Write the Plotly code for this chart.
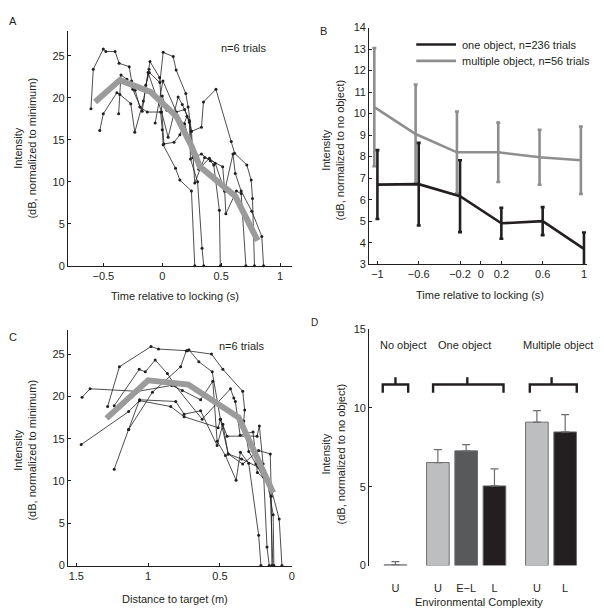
import plotly.graph_objects as go

W, H = 604, 616
FONT = "Arial, Liberation Sans, sans-serif"
INK = "#231f20"


def px(x):
    return x / W


def py(y):
    return 1 - y / H


# ---------------- Panel A : intensity vs time relative to locking ----------------
a_mean_t = [-0.57, -0.36, -0.10, 0.12, 0.25, 0.32, 0.62, 0.81]
a_mean_db = [19.5, 22.1, 20.7, 17.8, 14.2, 11.8, 8.3, 3.0]

a_t1 = [-0.605, -0.585, -0.50, -0.478, -0.40, -0.366, -0.28, -0.26, -0.23, -0.19, -0.127, -0.014, 0.0, 0.008, 0.113, 0.15, 0.248, 0.276]
a_db1 = [18.7, 23.4, 25.8, 25.5, 25.5, 24.1, 23.7, 22.0, 20.9, 18.9, 18.3, 18.3, 16.2, 14.4, 11.6, 10.2, 8.9, 0]
a_t2 = [-0.53, -0.50, -0.385, -0.36, -0.267, -0.233, -0.16, -0.112, -0.104, -0.022, 0.014, 0.10, 0.15, 0.21, 0.23, 0.24, 0.30, 0.338, 0.352]
a_db2 = [16.1, 18.1, 20.6, 20.4, 19.3, 15.9, 19.6, 23.4, 24.3, 22.4, 14.5, 14.7, 15.6, 17.8, 17.1, 12.7, 10.0, 2.1, 0]
a_t3 = [-0.37, -0.35, -0.30, -0.25, -0.17, -0.12, -0.005, 0.05, 0.135, 0.17, 0.23, 0.26, 0.333, 0.408, 0.437, 0.485, 0.493]
a_db3 = [18.1, 22.7, 22.2, 21.0, 18.4, 23.0, 18.3, 15.3, 20.1, 19.2, 17.3, 12.9, 13.3, 12.5, 12.0, 6.6, 0]
a_t4 = [-0.14, -0.11, -0.02, 0.008, 0.093, 0.118, 0.20, 0.22, 0.248, 0.276, 0.36, 0.513, 0.53, 0.54, 0.63, 0.67, 0.71]
a_db4 = [21.5, 23.0, 21.8, 25.4, 24.9, 23.3, 20.5, 18.9, 16.0, 9.85, 12.9, 11.8, 8.9, 6.2, 8.9, 8.6, 0]
a_t5 = [-0.06, 0.006, 0.12, 0.19, 0.23, 0.248, 0.333, 0.35, 0.456, 0.586, 0.614, 0.718, 0.755, 0.766, 0.783]
a_db5 = [17.0, 22.0, 18.3, 18.6, 17.1, 16.0, 16.5, 19.5, 21.0, 14.8, 13.4, 12.0, 10.2, 8.0, 0]
a_t6 = [0.0, 0.04, 0.19, 0.26, 0.31, 0.40, 0.45, 0.53, 0.60, 0.62, 0.67, 0.76, 0.845, 0.86]
a_db6 = [20.2, 18.5, 16.9, 13.3, 11.5, 12.8, 12.2, 8.9, 13.3, 11.0, 8.9, 6.5, 3.5, 0]
a_trials_t = [a_t1, a_t2, a_t3, a_t4, a_t5, a_t6]
a_trials_db = [a_db1, a_db2, a_db3, a_db4, a_db5, a_db6]

# ---------------- Panel B : one vs multiple object ----------------
b_t_one = [-1, -0.6, -0.2, 0.2, 0.6, 1]
b_one = [6.7, 6.72, 6.16, 4.9, 5.0, 3.71]
b_one_err = [1.6, 1.92, 1.67, 0.72, 0.65, 0.76]
b_t_multi = [-1.03, -0.63, -0.23, 0.17, 0.57, 0.97]
b_multi = [10.3, 9.05, 8.2, 8.2, 7.97, 7.83]
b_multi_err = [2.75, 2.3, 1.9, 1.38, 1.28, 1.57]
b_names = ["one object, n=236 trials", "multiple object, n=56 trials"]
b_xticks = [-1, -0.6, -0.2, 0, 0.2, 0.6, 1]
b_yticks = list(range(3, 15))

# ---------------- Panel C : intensity vs distance to target ----------------
c_mean_d = [1.29, 1.0, 0.72, 0.37, 0.13]
c_mean_db = [17.4, 21.9, 21.4, 17.5, 8.6]

c_d1 = [1.466, 1.136, 1.06, 0.843, 0.75, 0.513, 0.497, 0.45, 0.242, 0.226, 0.20, 0.173, 0.157]
c_db1 = [14.3, 18.2, 19.5, 18.8, 17.6, 16.3, 17.3, 15.3, 15.3, 16.5, 12.0, 2.2, 0]
c_d2 = [1.46, 1.404, 1.07, 0.836, 0.762, 0.635, 0.55, 0.52, 0.462, 0.388, 0.358, 0.30, 0.231, 0.215]
c_db2 = [19.9, 20.9, 20.6, 21.3, 20.7, 19.6, 21.8, 14.7, 13.0, 10.1, 13.4, 12.1, 3.6, 0]
c_d3 = [1.236, 1.136, 0.97, 0.774, 0.734, 0.716, 0.647, 0.554, 0.497, 0.443, 0.342, 0.231, 0.15, 0.143, 0.139]
c_db3 = [11.4, 16.1, 20.5, 23.5, 25.4, 25.5, 24.1, 22.9, 17.3, 13.2, 12.0, 13.6, 13.2, 8.2, 0]
c_d4 = [1.282, 1.20, 0.98, 0.928, 0.727, 0.559, 0.48, 0.342, 0.328, 0.335, 0.30, 0.25, 0.20, 0.15, 0.132]
c_db4 = [18.8, 23.5, 25.9, 25.6, 25.4, 25.0, 23.2, 20.6, 18.4, 17.1, 13.5, 12.0, 10.5, 8.8, 0]
c_d5 = [1.236, 1.062, 1.02, 0.951, 0.866, 0.813, 0.624, 0.427, 0.404, 0.393, 0.36, 0.27, 0.24, 0.17, 0.13, 0.125]
c_db5 = [18.9, 23.2, 22.9, 24.3, 22.7, 21.3, 17.3, 20.9, 19.8, 19.4, 15.4, 15.8, 11.0, 10.0, 6.0, 0]
c_d6 = [1.136, 1.06, 0.808, 0.75, 0.635, 0.52, 0.48, 0.443, 0.35, 0.23, 0.15, 0.088, 0.069]
c_db6 = [16.1, 19.6, 19.4, 17.9, 18.3, 14.2, 16.7, 13.2, 12.6, 11.6, 9.5, 5.5, 0]
c_trials_d = [c_d1, c_d2, c_d3, c_d4, c_d5, c_d6]
c_trials_db = [c_db1, c_db2, c_db3, c_db4, c_db5, c_db6]

# ---------------- Panel D : environmental complexity bars ----------------
d_pos = [1, 2.5, 3.5, 4.5, 6, 7]
d_labels = ["U", "U", "E\u2212L", "L", "U", "L"]
d_vals = [0.05, 6.53, 7.27, 5.05, 9.09, 8.47]
d_err = [0.2, 0.82, 0.4, 1.08, 0.73, 1.1]
d_colors = ["#bcbec0", "#bcbec0", "#58595b", INK, "#bcbec0", INK]
d_groups = ["No object", "One object", "Multiple object"]
d_group_x = [1.26, 3.45, 6.73]
d_bracket_lo = [0.55, 2.33, 5.75]
d_bracket_hi = [1.45, 4.82, 7.41]
d_bracket_mid = [1.0, 3.54, 6.52]

fig = go.Figure()

# Panel A traces
for t, v in zip(a_trials_t, a_trials_db):
    fig.add_trace(go.Scatter(x=t, y=v, mode="lines+markers", xaxis="x", yaxis="y",
                             line=dict(color=INK, width=0.8), marker=dict(color=INK, size=3),
                             cliponaxis=False, showlegend=False, hoverinfo="skip"))
fig.add_trace(go.Scatter(x=a_mean_t, y=a_mean_db, mode="lines", xaxis="x", yaxis="y",
                         line=dict(color="#9b9b9b", width=6), showlegend=False))

# Panel B traces
fig.add_trace(go.Scatter(x=b_t_multi, y=b_multi, mode="lines", xaxis="x2", yaxis="y2", name=b_names[1],
                         line=dict(color="#8e8e8e", width=2.6),
                         error_y=dict(type="data", array=b_multi_err, color="#8e8e8e", thickness=2.6, width=2),
                         showlegend=False))
fig.add_trace(go.Scatter(x=b_t_one, y=b_one, mode="lines", xaxis="x2", yaxis="y2", name=b_names[0],
                         line=dict(color=INK, width=2.6),
                         error_y=dict(type="data", array=b_one_err, color=INK, thickness=2.6, width=2),
                         showlegend=False))

# Panel C traces
for d, v in zip(c_trials_d, c_trials_db):
    fig.add_trace(go.Scatter(x=d, y=v, mode="lines+markers", xaxis="x3", yaxis="y3",
                             line=dict(color=INK, width=0.8), marker=dict(color=INK, size=3),
                             cliponaxis=False, showlegend=False, hoverinfo="skip"))
fig.add_trace(go.Scatter(x=c_mean_d, y=c_mean_db, mode="lines", xaxis="x3", yaxis="y3",
                         line=dict(color="#9b9b9b", width=6), showlegend=False))

# Panel D bars
fig.add_trace(go.Bar(x=d_pos, y=d_vals, width=0.8, xaxis="x4", yaxis="y4",
                     marker=dict(color=d_colors, line=dict(color="#6d6e71", width=1)),
                     error_y=dict(type="data", array=d_err, arrayminus=[0] * len(d_err), symmetric=False,
                                  color="#6d6e71", thickness=1.2, width=4),
                     showlegend=False))

axis_common = dict(showline=True, linecolor=INK, linewidth=1, ticks="inside", ticklen=3,
                   tickcolor=INK, showgrid=False, zeroline=False,
                   tickfont=dict(family=FONT, size=11, color=INK))

fig.update_layout(
    width=W, height=H, margin=dict(l=0, r=0, t=0, b=0),
    paper_bgcolor="white", plot_bgcolor="white",
    font=dict(family=FONT, size=11, color=INK),
    xaxis=dict(domain=[px(68.3), px(293.3)], range=[-0.8, 1.1], anchor="y",
               tickvals=[-0.5, 0, 0.5, 1], ticktext=["\u22120.5", "0", "0.5", "1"], **axis_common),
    yaxis=dict(domain=[py(265), py(25)], range=[0, 28], anchor="x",
               tickvals=[0, 5, 10, 15, 20, 25], **axis_common),
    xaxis2=dict(domain=[px(371), px(590)], range=[-1.08, 1.03], anchor="y2",
                tickvals=b_xticks, ticktext=["\u22121", "\u22120.6", "\u22120.2", "0", "0.2", "0.6", "1"],
                **axis_common),
    yaxis2=dict(domain=[py(263.3), py(22)], range=[3, 14], anchor="x2",
                tickvals=b_yticks, **axis_common),
    xaxis3=dict(domain=[px(68.3), px(293.3)], range=[1.558, 0], anchor="y3",
                tickvals=[1.5, 1, 0.5, 0], **axis_common),
    yaxis3=dict(domain=[py(570.7), py(330)], range=[0, 27.9], anchor="x3",
                tickvals=[0, 5, 10, 15, 20, 25], **axis_common),
    xaxis4=dict(domain=[px(371), px(593)], range=[0.07, 7.88], anchor="y4",
                showline=False, showgrid=False, zeroline=False, ticks="",
                tickvals=d_pos, ticktext=d_labels, ticklabelstandoff=14,
                tickfont=dict(family=FONT, size=11, color=INK)),
    yaxis4=dict(domain=[py(570.7), py(329.3)], range=[0, 15], anchor="x4",
                tickvals=[0, 5, 10, 15], **axis_common),
)

ann = []


def txt(x, y, s, **kw):
    d = dict(x=px(x), y=py(y), xref="paper", yref="paper", text=s, showarrow=False,
             font=dict(family=FONT, size=kw.pop("size", 11), color=INK), xanchor="center", yanchor="middle")
    d.update(kw)
    ann.append(d)


# panel letters
txt(7, 15, "A", xanchor="left")
txt(320, 25, "B", xanchor="left")
txt(7, 338, "C", xanchor="left")
txt(311, 323, "D", xanchor="left", size=10)

# y titles
ytitle = "Intensity<br>(dB, normalized to {})"
txt(25.5, 145, ytitle.format("minimum"), textangle=-90)
txt(335, 147, ytitle.format("no object"), textangle=-90)
txt(25.5, 453, ytitle.format("minimum"), textangle=-90)
txt(335, 457, ytitle.format("no object"), textangle=-90)

# x titles
txt(175.7, 296, "Time relative to locking (s)")
txt(482.7, 295, "Time relative to locking (s)")
txt(175.7, 605, "Distance to target (m)")
txt(481.7, 607.5, "Environmental Complexity")

# n labels
txt(244.7, 42.7, "n=6 trials")
txt(242.3, 346.7, "n=6 trials")

# panel B legend text
txt(462.3, 39.3, b_names[0], xanchor="left")
txt(462.3, 56, b_names[1], xanchor="left")

# panel D group labels
for gx, g in zip(d_group_x, d_groups):
    ann.append(dict(x=gx, y=14.0, xref="x4", yref="y4", text=g, showarrow=False,
                    font=dict(family=FONT, size=11, color=INK), xanchor="center", yanchor="middle"))

shapes = []
# panel B legend lines
shapes.append(dict(type="line", xref="paper", yref="paper", x0=px(418.3), x1=px(458.3), y0=py(39.3), y1=py(39.3),
                   line=dict(color=INK, width=2.6)))
shapes.append(dict(type="line", xref="paper", yref="paper", x0=px(418.3), x1=px(458.3), y0=py(56), y1=py(56),
                   line=dict(color="#8e8e8e", width=2.6)))
# panel D brackets
for lo, hi, mid in zip(d_bracket_lo, d_bracket_hi, d_bracket_mid):
    shapes.append(dict(type="path", xref="x4", yref="y4",
                       path=f"M {lo},10.96 L {lo},11.48 L {hi},11.48 L {hi},10.96",
                       line=dict(color=INK, width=2.4)))
    shapes.append(dict(type="line", xref="x4", yref="y4", x0=mid, x1=mid, y0=11.48, y1=11.93,
                       line=dict(color=INK, width=2.4)))

fig.update_layout(annotations=ann, shapes=shapes)
fig.write_html("out.html", config={"displayModeBar": False},
               post_script="document.body.style.margin='0';document.body.style.overflow='hidden';")
